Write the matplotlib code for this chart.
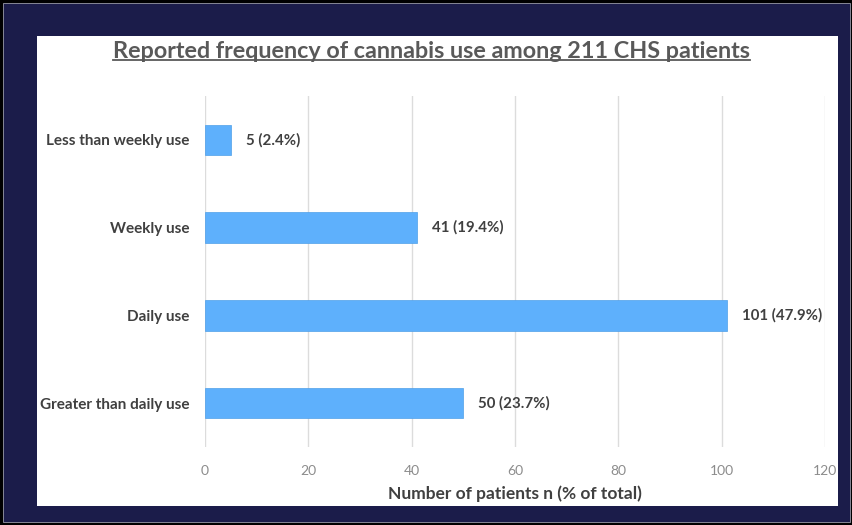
import matplotlib
matplotlib.use("Agg")
import matplotlib.pyplot as plt
from matplotlib.patches import Rectangle
from matplotlib.lines import Line2D

plt.rcParams["font.family"] = ["Lato", "DejaVu Sans"]

categories = ["Less than weekly use", "Weekly use", "Daily use", "Greater than daily use"]
counts = [5, 41, 101, 50]
percents = [2.4, 19.4, 47.9, 23.7]
x_ticks = [0, 20, 40, 60, 80, 100, 120]

TITLE = "Reported frequency of cannabis use among 211 CHS patients"
BAR_COLOR = "#5eb0fc"
DARK_TEXT = "#404040"
NAVY = "#1b1c4a"

W, H = 853, 525
fig = plt.figure(figsize=(W / 100, H / 100), dpi=100)
fig.patch.set_facecolor("black")

# navy frame inside a thin black border, then the white panel
fig.patches.append(Rectangle((3 / W, 3 / H), 1 - 6 / W, 1 - 6 / H,
                             transform=fig.transFigure, facecolor=NAVY,
                             edgecolor="#9a9aa8", linewidth=0.6, zorder=-2))
fig.patches.append(Rectangle((37 / W, 1 - 506 / H), (838 - 37) / W, (506 - 36) / H,
                             transform=fig.transFigure, facecolor="white",
                             edgecolor="none", zorder=-1))

ax = fig.add_axes([205 / W, 1 - 447 / H, (825 - 205) / W, (447 - 96) / H])
ax.set_facecolor("none")
ax.set_zorder(2)

y_pos = list(range(len(categories)))
bars = ax.barh(y_pos, counts, height=0.35, color=BAR_COLOR,
               edgecolor="#4f9fe8", linewidth=0.5, zorder=3)

for bar, n, p in zip(bars, counts, percents):
    ax.text(bar.get_width() + 2.9, bar.get_y() + bar.get_height() / 2,
            f"{n} ({p}%)", va="center", ha="left", fontsize=10.8,
            fontweight="bold", color=DARK_TEXT)

ax.set_ylim(len(categories) - 0.5, -0.5)
ax.set_xlim(0, 120)
ax.set_yticks(y_pos)
ax.set_yticklabels(categories, fontsize=11, fontweight="bold", color=DARK_TEXT)
ax.set_xticks(x_ticks)
ax.set_xticklabels([str(t) for t in x_ticks], fontsize=10, color="#8c8c8c")
ax.tick_params(axis="both", length=0)
ax.tick_params(axis="y", pad=11)
ax.tick_params(axis="x", pad=13)
ax.grid(axis="x", color="#dcdcdc", linewidth=1, zorder=0)
for s in ax.spines.values():
    s.set_visible(False)

ax.set_xlabel("Number of patients n (% of total)", fontsize=12.5,
              fontweight="bold", color=DARK_TEXT, labelpad=6)

# underlined title
title = fig.text(432 / W, 1 - 51.5 / H, TITLE, ha="center", va="center",
                 fontsize=16.8, fontweight="bold", color="#595959")
fig.canvas.draw()
bb = title.get_window_extent().transformed(fig.transFigure.inverted())
uy = 1 - 60 / H
fig.lines.append(Line2D([bb.x0, bb.x1], [uy, uy], transform=fig.transFigure,
                        color="#595959", linewidth=1.3))

fig.savefig("out.png", dpi=100, facecolor=fig.get_facecolor())
